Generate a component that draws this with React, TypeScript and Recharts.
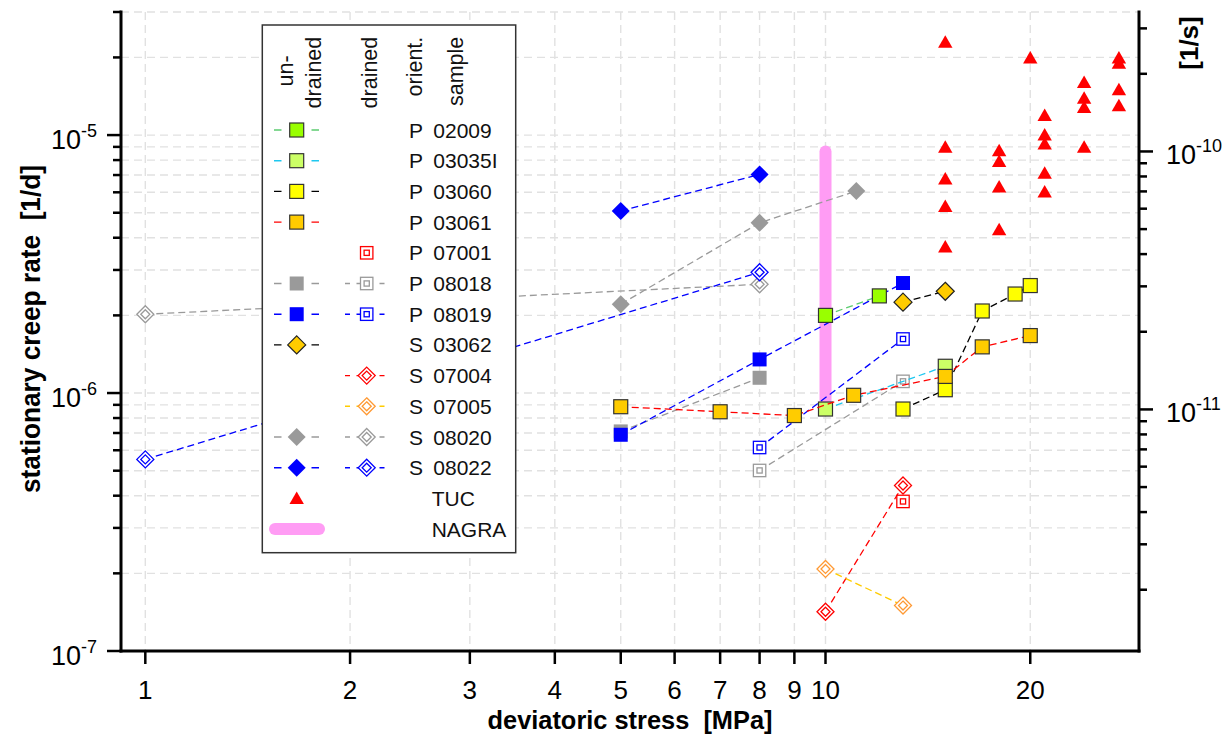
import React from 'react';
import { ScatterChart, Scatter, XAxis, YAxis, CartesianGrid, Legend } from 'recharts';

const FONT = '"Liberation Sans", Arial, Helvetica, sans-serif';
const SECONDS_PER_DAY = 86400;

// ---- axes -------------------------------------------------------------
const STRESS_DOMAIN: [number, number] = [0.921, 28.9];
const STRESS_TICKS = [1, 2, 3, 4, 5, 6, 7, 8, 9, 10, 20];
const STRESS_MAJOR = [1, 10];

const RATE_DOMAIN: [number, number] = [1e-7, 3e-5];
const RATE_TICKS = [
  1e-7, 2e-7, 3e-7, 4e-7, 5e-7, 6e-7, 7e-7, 8e-7, 9e-7,
  1e-6, 2e-6, 3e-6, 4e-6, 5e-6, 6e-6, 7e-6, 8e-6, 9e-6,
  1e-5, 2e-5, 3e-5,
];
const RATE_MAJOR = [1e-7, 1e-6, 1e-5];

// secondary axis: same rate expressed per second
const RATE_S_DOMAIN: [number, number] = [RATE_DOMAIN[0] / SECONDS_PER_DAY, RATE_DOMAIN[1] / SECONDS_PER_DAY];
const RATE_S_TICKS = [
  2e-12, 3e-12, 4e-12, 5e-12, 6e-12, 7e-12, 8e-12, 9e-12,
  1e-11, 2e-11, 3e-11, 4e-11, 5e-11, 6e-11, 7e-11, 8e-11, 9e-11,
  1e-10, 2e-10, 3e-10,
];

// ---- measurements: deviatoric stress s [MPa], creep rate r [1/d] -------
type Pt = { s: number; r: number };

const P02009_UNDRAINED: Pt[] = [{ s: 10, r: 2.0e-6 }, { s: 12, r: 2.38e-6 }];
const P03035I_UNDRAINED: Pt[] = [{ s: 10, r: 8.67e-7 }, { s: 15, r: 1.27e-6 }];
const P03060_UNDRAINED: Pt[] = [
  { s: 13, r: 8.67e-7 }, { s: 15, r: 1.03e-6 }, { s: 17, r: 2.08e-6 }, { s: 19, r: 2.42e-6 }, { s: 20, r: 2.61e-6 },
];
const P03061_UNDRAINED: Pt[] = [
  { s: 5, r: 8.85e-7 }, { s: 7, r: 8.46e-7 }, { s: 9, r: 8.18e-7 }, { s: 11, r: 9.8e-7 },
  { s: 15, r: 1.16e-6 }, { s: 17, r: 1.51e-6 }, { s: 20, r: 1.67e-6 },
];
const P07001_DRAINED: Pt[] = [{ s: 13, r: 3.8e-7 }];
const P08018_UNDRAINED: Pt[] = [{ s: 5, r: 7.1e-7 }, { s: 8, r: 1.146e-6 }];
const P08018_DRAINED: Pt[] = [{ s: 8, r: 5.01e-7 }, { s: 13, r: 1.11e-6 }];
const P08019_UNDRAINED: Pt[] = [{ s: 5, r: 6.89e-7 }, { s: 8, r: 1.35e-6 }, { s: 13, r: 2.67e-6 }];
const P08019_DRAINED: Pt[] = [{ s: 8, r: 6.15e-7 }, { s: 13, r: 1.62e-6 }];
const S03062_UNDRAINED: Pt[] = [{ s: 13, r: 2.25e-6 }, { s: 15, r: 2.48e-6 }];
const S07004_DRAINED: Pt[] = [{ s: 10, r: 1.42e-7 }, { s: 13, r: 4.38e-7 }];
const S07005_DRAINED: Pt[] = [{ s: 10, r: 2.08e-7 }, { s: 13, r: 1.5e-7 }];
const S08020_UNDRAINED: Pt[] = [{ s: 5, r: 2.21e-6 }, { s: 8, r: 4.57e-6 }, { s: 11.1, r: 6.07e-6 }];
const S08020_DRAINED: Pt[] = [{ s: 1, r: 2.02e-6 }, { s: 8, r: 2.64e-6 }];
const S08022_UNDRAINED: Pt[] = [{ s: 5, r: 5.08e-6 }, { s: 8, r: 7.04e-6 }];
const S08022_DRAINED: Pt[] = [{ s: 1, r: 5.53e-7 }, { s: 8, r: 2.94e-6 }];

const TUC: Pt[] = [
  { s: 15, r: 2.29e-5 }, { s: 15, r: 8.98e-6 }, { s: 15, r: 6.75e-6 }, { s: 15, r: 5.29e-6 }, { s: 15, r: 3.68e-6 },
  { s: 18, r: 8.69e-6 }, { s: 18, r: 7.9e-6 }, { s: 18, r: 6.29e-6 }, { s: 18, r: 4.3e-6 },
  { s: 20, r: 1.99e-5 },
  { s: 21, r: 1.19e-5 }, { s: 21, r: 1.0e-5 }, { s: 21, r: 9.23e-6 }, { s: 21, r: 7.12e-6 }, { s: 21, r: 6.01e-6 },
  { s: 24, r: 1.6e-5 }, { s: 24, r: 1.39e-5 }, { s: 24, r: 1.28e-5 }, { s: 24, r: 8.98e-6 },
  { s: 27, r: 1.99e-5 }, { s: 27, r: 1.9e-5 }, { s: 27, r: 1.5e-5 }, { s: 27, r: 1.3e-5 },
];

// NAGRA range: 1e-11 .. 1e-10 1/s at 10 MPa
const NAGRA: Pt[] = [
  { s: 10, r: 1e-11 * SECONDS_PER_DAY },
  { s: 10, r: 1e-10 * SECONDS_PER_DAY },
];

// ---- styles -----------------------------------------------------------
const GREY = '#9a9a9a';
const BLUE = '#0000ff';
const RED = '#ff0000';
const DASH = '7 4';

type MarkerKind = 'square' | 'dsquare' | 'diamond' | 'ddiamond' | 'triangle' | 'none';
type MarkerSpec = { kind: MarkerKind; fill?: string; stroke?: string };
type Style = { marker: MarkerSpec; line?: string };

const ST = {
  p02009u: { marker: { kind: 'square', fill: '#99ff00', stroke: '#333' }, line: '#5ccc70' },
  p03035u: { marker: { kind: 'square', fill: '#ccff66', stroke: '#333' }, line: '#1ec8f0' },
  p03060u: { marker: { kind: 'square', fill: '#ffff00', stroke: '#333' }, line: '#000' },
  p03061u: { marker: { kind: 'square', fill: '#ffcc00', stroke: '#333' }, line: RED },
  p07001d: { marker: { kind: 'dsquare', stroke: RED } },
  p08018u: { marker: { kind: 'square', fill: GREY }, line: GREY },
  p08018d: { marker: { kind: 'dsquare', stroke: GREY }, line: GREY },
  p08019u: { marker: { kind: 'square', fill: BLUE }, line: BLUE },
  p08019d: { marker: { kind: 'dsquare', stroke: BLUE }, line: BLUE },
  s03062u: { marker: { kind: 'diamond', fill: '#ffcc00', stroke: '#222' }, line: '#000' },
  s07004d: { marker: { kind: 'ddiamond', stroke: RED }, line: RED },
  s07005d: { marker: { kind: 'ddiamond', stroke: '#ff9933' }, line: '#ffcc00' },
  s08020u: { marker: { kind: 'diamond', fill: GREY }, line: GREY },
  s08020d: { marker: { kind: 'ddiamond', stroke: GREY }, line: GREY },
  s08022u: { marker: { kind: 'diamond', fill: BLUE }, line: BLUE },
  s08022d: { marker: { kind: 'ddiamond', stroke: BLUE }, line: BLUE },
  tuc: { marker: { kind: 'triangle', fill: RED } },
} as Record<string, Style>;

const NAGRA_COLOR = '#ff9cf4';

// drawing order (later on top)
const PLOT_SERIES: { name: string; data: Pt[]; style: Style }[] = [
  { name: 'S 08020 drained', data: S08020_DRAINED, style: ST.s08020d },
  { name: 'S 08022 drained', data: S08022_DRAINED, style: ST.s08022d },
  { name: 'S 08020 undrained', data: S08020_UNDRAINED, style: ST.s08020u },
  { name: 'S 08022 undrained', data: S08022_UNDRAINED, style: ST.s08022u },
  { name: 'P 08018 drained', data: P08018_DRAINED, style: ST.p08018d },
  { name: 'P 08019 drained', data: P08019_DRAINED, style: ST.p08019d },
  { name: 'P 08018 undrained', data: P08018_UNDRAINED, style: ST.p08018u },
  { name: 'P 08019 undrained', data: P08019_UNDRAINED, style: ST.p08019u },
  { name: 'P 03035I undrained', data: P03035I_UNDRAINED, style: ST.p03035u },
  { name: 'P 03060 undrained', data: P03060_UNDRAINED, style: ST.p03060u },
  { name: 'P 03061 undrained', data: P03061_UNDRAINED, style: ST.p03061u },
  { name: 'P 02009 undrained', data: P02009_UNDRAINED, style: ST.p02009u },
  { name: 'S 03062 undrained', data: S03062_UNDRAINED, style: ST.s03062u },
  { name: 'P 07001 drained', data: P07001_DRAINED, style: ST.p07001d },
  { name: 'S 07004 drained', data: S07004_DRAINED, style: ST.s07004d },
  { name: 'S 07005 drained', data: S07005_DRAINED, style: ST.s07005d },
  { name: 'TUC', data: TUC, style: ST.tuc },
];

// ---- legend table -----------------------------------------------------
type LegendRow = { orient: string; sample: string; undrained?: Style; drained?: Style };
const LEGEND_ROWS: LegendRow[] = [
  { orient: 'P', sample: '02009', undrained: ST.p02009u },
  { orient: 'P', sample: '03035I', undrained: ST.p03035u },
  { orient: 'P', sample: '03060', undrained: ST.p03060u },
  { orient: 'P', sample: '03061', undrained: ST.p03061u },
  { orient: 'P', sample: '07001', drained: ST.p07001d },
  { orient: 'P', sample: '08018', undrained: ST.p08018u, drained: ST.p08018d },
  { orient: 'P', sample: '08019', undrained: ST.p08019u, drained: ST.p08019d },
  { orient: 'S', sample: '03062', undrained: ST.s03062u },
  { orient: 'S', sample: '07004', drained: ST.s07004d },
  { orient: 'S', sample: '07005', drained: ST.s07005d },
  { orient: 'S', sample: '08020', undrained: ST.s08020u, drained: ST.s08020d },
  { orient: 'S', sample: '08022', undrained: ST.s08022u, drained: ST.s08022d },
];

// ---- markers ----------------------------------------------------------
function drawMarker(m: MarkerSpec, cx: number, cy: number) {
  if (cx == null || cy == null) return <g />;
  switch (m.kind) {
    case 'square':
      return (
        <rect x={cx - 7} y={cy - 7} width={14} height={14} fill={m.fill}
          stroke={m.stroke ?? 'none'} strokeWidth={1.2} />
      );
    case 'dsquare':
      return (
        <g>
          <rect x={cx - 6.2} y={cy - 6.2} width={12.4} height={12.4} fill="#fff" stroke={m.stroke} strokeWidth={1.3} />
          <rect x={cx - 2.6} y={cy - 2.6} width={5.2} height={5.2} fill="none" stroke={m.stroke} strokeWidth={1.3} />
        </g>
      );
    case 'diamond': {
      const d = 9;
      return (
        <polygon points={`${cx},${cy - d} ${cx + d},${cy} ${cx},${cy + d} ${cx - d},${cy}`}
          fill={m.fill} stroke={m.stroke ?? 'none'} strokeWidth={1.2} />
      );
    }
    case 'ddiamond': {
      const d = 8.5;
      const e = 4.5;
      return (
        <g>
          <polygon points={`${cx},${cy - d} ${cx + d},${cy} ${cx},${cy + d} ${cx - d},${cy}`}
            fill="#fff" stroke={m.stroke} strokeWidth={1.3} />
          <polygon points={`${cx},${cy - e} ${cx + e},${cy} ${cx},${cy + e} ${cx - e},${cy}`}
            fill="none" stroke={m.stroke} strokeWidth={1.3} />
        </g>
      );
    }
    case 'triangle':
      return (
        <polygon points={`${cx},${cy - 7} ${cx + 7.2},${cy + 5.5} ${cx - 7.2},${cy + 5.5}`} fill={m.fill} />
      );
    default:
      return <g />;
  }
}

// ---- ticks ------------------------------------------------------------
const isDecade = (v: number) => {
  const e = Math.log10(v);
  return Math.abs(e - Math.round(e)) < 1e-6;
};

const PowerLabel = ({ x, y, exp, anchor }: { x: number; y: number; exp: number; anchor: 'start' | 'end' }) => (
  <text x={x} y={y} textAnchor={anchor} fontSize={27} fontFamily={FONT} fill="#000">
    10
    <tspan dy={-12} fontSize={18}>{`-${-exp}`}</tspan>
  </text>
);

const XTick = (props: any) => {
  const { x, y, payload } = props;
  return (
    <g>
      <line x1={x} y1={y} x2={x} y2={y + 13} stroke="#000" strokeWidth={2.5} />
      <text x={x} y={y + 48} textAnchor="middle" fontSize={26} fontFamily={FONT} fill="#000">
        {payload.value}
      </text>
    </g>
  );
};

const LeftTick = (props: any) => {
  const { x, y, payload } = props;
  const major = isDecade(payload.value);
  return (
    <g>
      <line x1={x - (major ? 14 : 8)} y1={y} x2={x} y2={y} stroke="#000" strokeWidth={2.5} />
      {major && <PowerLabel x={x - 24} y={y + 14} exp={Math.round(Math.log10(payload.value))} anchor="end" />}
    </g>
  );
};

const RightTick = (props: any) => {
  const { x, y, payload } = props;
  const major = isDecade(payload.value);
  return (
    <g>
      <line x1={x} y1={y} x2={x + (major ? 14 : 8)} y2={y} stroke="#000" strokeWidth={2.5} />
      {major && <PowerLabel x={x + 27} y={y + 13} exp={Math.round(Math.log10(payload.value))} anchor="start" />}
    </g>
  );
};

// ---- axis titles ------------------------------------------------------
const XTitle = () => (
  <text x={630} y={729} textAnchor="middle" fontSize={25.5} fontWeight="bold" fontFamily={FONT}
    style={{ whiteSpace: 'pre' }} textLength={285} lengthAdjust="spacingAndGlyphs">
    {'deviatoric stress  [MPa]'}
  </text>
);

const YTitle = () => (
  <text x={0} y={0} transform="translate(40 329) rotate(-90)" textAnchor="middle" fontSize={27}
    fontWeight="bold" fontFamily={FONT} style={{ whiteSpace: 'pre' }} textLength={328}
    lengthAdjust="spacingAndGlyphs">
    {'stationary creep rate  [1/d]'}
  </text>
);

const RightTitle = () => (
  <text x={0} y={0} transform="translate(1198 43) rotate(-90)" textAnchor="middle" fontSize={26}
    fontWeight="bold" fontFamily={FONT}>
    [1/s]
  </text>
);

// ---- legend box -------------------------------------------------------
const LEG_ROW0 = 106;
const LEG_STEP = 30.7;
const COL_U = 35.7;
const COL_D = 105.7;

function LegendLine({ x1, x2, y, color, dash }: { x1: number; x2: number; y: number; color: string; dash: string }) {
  return <line x1={x1} x2={x2} y1={y} y2={y} stroke={color} strokeWidth={1.4} strokeDasharray={dash} />;
}

function LegendBox() {
  const txt = { fontFamily: FONT, fontSize: 21, fill: '#111' } as const;
  const head = { fontFamily: FONT, fontSize: 21.5, fill: '#111' } as const;
  const rot = (x: number, y: number) => `translate(${x} ${y}) rotate(-90)`;
  return (
    <svg width={258} height={532} style={{ display: 'block', overflow: 'visible' }}>
      <rect x={1.3} y={1} width={253.4} height={527.7} fill="#fff" stroke="#333" strokeWidth={1.5} />
      <text transform={rot(32, 47)} textAnchor="middle" {...head}>un-</text>
      <text transform={rot(59.7, 12.7)} textAnchor="end" {...head}>drained</text>
      <text transform={rot(115.7, 12.7)} textAnchor="end" {...head}>drained</text>
      <text transform={rot(160.7, 12.7)} textAnchor="end" {...head}>orient.</text>
      <text transform={rot(201.7, 12.7)} textAnchor="end" {...head}>sample</text>
      {LEGEND_ROWS.map((row, i) => {
        const y = LEG_ROW0 + i * LEG_STEP;
        return (
          <g key={row.sample}>
            {row.undrained && row.undrained.line && (
              <LegendLine x1={13} x2={58} y={y} color={row.undrained.line} dash="7.5 30" />
            )}
            {row.undrained && drawMarker(row.undrained.marker, COL_U, y)}
            {row.drained && row.drained.line && (
              <LegendLine x1={84} x2={128.3} y={y} color={row.drained.line} dash="5 6.5" />
            )}
            {row.drained && drawMarker(row.drained.marker, COL_D, y)}
            <text x={148} y={y + 7.5} {...txt}>{row.orient}</text>
            <text x={172.3} y={y + 7.5} {...txt}>{row.sample}</text>
          </g>
        );
      })}
      <g>
        {drawMarker(ST.tuc.marker, COL_U, LEG_ROW0 + 12 * LEG_STEP)}
        <text x={170.7} y={LEG_ROW0 + 12 * LEG_STEP + 7.5} {...txt}>TUC</text>
      </g>
      <g>
        <line x1={14} x2={58} y1={LEG_ROW0 + 13 * LEG_STEP} y2={LEG_ROW0 + 13 * LEG_STEP}
          stroke={NAGRA_COLOR} strokeWidth={12} strokeLinecap="round" />
        <text x={170.7} y={LEG_ROW0 + 13 * LEG_STEP + 7.5} {...txt}>NAGRA</text>
      </g>
    </svg>
  );
}

// ---- grid helpers -----------------------------------------------------
const majorRows = (args: any) => {
  const sc = args?.yAxis?.scale;
  return typeof sc === 'function' ? RATE_MAJOR.map((v) => sc(v)) : [];
};
const majorCols = (args: any) => {
  const sc = args?.xAxis?.scale;
  return typeof sc === 'function' ? STRESS_MAJOR.map((v) => sc(v)) : [];
};

const AXIS_LINE = { stroke: '#000', strokeWidth: 3, strokeLinecap: 'square' as const };

export default function App() {
  return (
    <div style={{ width: 1229, height: 735, position: 'relative', background: '#fff' }}>
      <style>{'html,body{margin:0;padding:0;overflow:hidden;background:#fff}'}</style>
      <ScatterChart width={1229} height={735} margin={{ top: 12, right: 0, bottom: 0, left: 0 }}>
        <CartesianGrid stroke="#e1e1e1" strokeWidth={1.4} strokeDasharray="8 5" />
        <CartesianGrid stroke="#c9c9c9" strokeWidth={1.2}
          horizontalCoordinatesGenerator={majorRows} verticalCoordinatesGenerator={majorCols} />
        <XAxis dataKey="s" type="number" scale="log" domain={STRESS_DOMAIN} allowDataOverflow
          ticks={STRESS_TICKS} interval={0} height={84} tickSize={0} tickMargin={0} tickLine={false}
          axisLine={AXIS_LINE} tick={<XTick />} label={<XTitle />} />
        <XAxis xAxisId="top" orientation="top" type="number" scale="log" domain={STRESS_DOMAIN}
          allowDataOverflow height={0} tick={false} tickLine={false} axisLine={AXIS_LINE} />
        <YAxis dataKey="r" type="number" scale="log" domain={RATE_DOMAIN} allowDataOverflow
          ticks={RATE_TICKS} interval={0} width={121} tickSize={0} tickMargin={0} tickLine={false}
          axisLine={AXIS_LINE} tick={<LeftTick />} label={<YTitle />} />
        <YAxis yAxisId="right" orientation="right" type="number" scale="log" domain={RATE_S_DOMAIN}
          allowDataOverflow ticks={RATE_S_TICKS} interval={0} width={90} tickSize={0} tickMargin={0}
          tickLine={false} axisLine={AXIS_LINE} tick={<RightTick />} label={<RightTitle />} />
        <Scatter name="NAGRA" data={NAGRA} isAnimationActive={false} legendType="none"
          line={{ stroke: NAGRA_COLOR, strokeWidth: 12, strokeLinecap: 'round' }} lineType="joint"
          shape={() => <g />} />
        {PLOT_SERIES.map((sd) => (
          <Scatter key={sd.name} name={sd.name} data={sd.data} isAnimationActive={false} legendType="none"
            line={sd.style.line ? { stroke: sd.style.line, strokeWidth: 1.3, strokeDasharray: DASH } : false}
            lineType="joint"
            shape={(p: any) => drawMarker(sd.style.marker, p.cx, p.cy)} />
        ))}
        <Legend layout="vertical" align="center" verticalAlign="middle"
          wrapperStyle={{ left: 261, top: 24, width: 258, height: 532 }}
          content={() => <LegendBox />} />
      </ScatterChart>
    </div>
  );
}
